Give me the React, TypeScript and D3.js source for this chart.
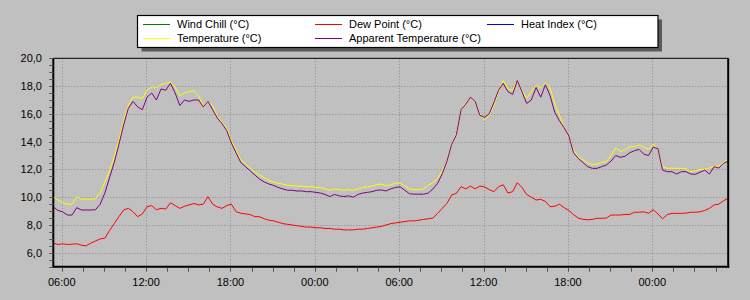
import React from "react";
import * as d3 from "d3";

// ---- data (20-minute samples starting 05:24) ----
const START = new Date(2012, 4, 10, 5, 24);
const STEP_MIN = 20;

const temperature = [
  10.04, 9.8, 9.6, 9.5, 9.5, 10.05, 9.87, 9.87, 9.87, 9.9, 10.3, 11.1, 11.9, 12.9, 14.1, 15.5, 16.6, 17.2, 17.2, 17.1,
  17.7, 17.95, 17.9, 18.1, 18.2, 18.3, 17.9, 17.3, 17.5, 17.6, 17.65, 17.3, 16.6, 16.9, 16.6, 15.8, 15.4, 14.95, 14.05, 13.35,
  12.7, 12.4, 12.1, 11.8, 11.6, 11.4, 11.2, 11.1, 11.0, 10.95, 10.85, 10.85, 10.8, 10.8, 10.75, 10.75, 10.7, 10.7, 10.6, 10.5,
  10.6, 10.55, 10.5, 10.55, 10.5, 10.6, 10.7, 10.75, 10.8, 10.9, 10.95, 10.8, 10.9, 11.0, 11.05, 10.8, 10.6, 10.55, 10.55, 10.6,
  10.85, 11.05, 11.35, 11.9, 12.6, 13.8, 14.6, 16.3, 16.8, 17.2, 16.8, 16.0, 15.55, 15.9, 16.6, 17.6, 18.4, 17.8, 17.7, 18.4,
  17.7, 17.1, 17.6, 18.05, 17.9, 18.2, 17.9, 16.7, 15.9, 15.0, 14.3, 13.4, 12.9, 12.7, 12.45, 12.37, 12.37, 12.5, 12.56, 13.0,
  13.55, 13.3, 13.4, 13.64, 13.64, 13.75, 13.6, 13.45, 13.83, 13.4, 12.2, 12.08, 12.08, 12.08, 12.08, 12.05, 11.84, 11.9, 12.0, 12.0,
  12.1, 12.2, 12.25, 12.5, 12.75,
];

const apparentTemperature = [
  9.3, 9.05, 8.95, 8.72, 8.72, 9.25, 9.08, 9.08, 9.08, 9.1, 9.5, 10.3, 11.4, 12.5, 13.8, 15.2, 16.4, 16.9, 16.5, 16.3,
  17.2, 17.5, 17.0, 17.8, 17.7, 18.2, 17.5, 16.6, 17.0, 16.9, 17.0, 17.0, 16.5, 16.9, 16.3, 15.7, 15.3, 14.8, 13.9, 13.2,
  12.5, 12.2, 11.9, 11.6, 11.3, 11.1, 10.95, 10.85, 10.7, 10.6, 10.5, 10.5, 10.45, 10.45, 10.4, 10.4, 10.35, 10.3, 10.2, 10.05,
  10.2, 10.1, 10.05, 10.1, 10.0, 10.2, 10.3, 10.35, 10.4, 10.5, 10.52, 10.45, 10.6, 10.7, 10.75, 10.5, 10.25, 10.22, 10.22, 10.22,
  10.3, 10.6, 11.0, 11.7, 12.6, 13.8, 14.5, 16.3, 16.7, 17.2, 16.9, 15.9, 15.75, 16.0, 16.8, 17.7, 18.2, 17.6, 17.4, 18.4,
  17.6, 16.75, 17.0, 17.9, 17.2, 18.1, 17.3, 16.1, 15.5, 15.0, 14.4, 13.2, 12.8, 12.5, 12.2, 12.08, 12.08, 12.2, 12.32, 12.6,
  13.0, 12.87, 12.95, 13.2, 13.35, 13.44, 13.1, 13.0, 13.6, 13.5, 11.95, 11.84, 11.84, 11.67, 11.84, 11.84, 11.67, 11.65, 11.8, 11.95,
  11.67, 12.2, 12.1, 12.44, 12.6,
];

const dewPoint = [
  6.69, 6.6, 6.65, 6.6, 6.62, 6.65, 6.55, 6.5, 6.7, 6.85, 7.0, 7.05, 7.6, 8.1, 8.6, 9.08, 9.2, 8.96, 8.6, 8.8,
  9.32, 9.4, 9.1, 9.2, 9.15, 9.6, 9.4, 9.2, 9.35, 9.45, 9.55, 9.45, 9.5, 10.04, 9.5, 9.3, 9.2, 9.4, 9.5, 8.96,
  8.85, 8.8, 8.75, 8.6, 8.6, 8.45, 8.35, 8.3, 8.2, 8.1, 8.05, 8.0, 7.95, 7.9, 7.85, 7.85, 7.8, 7.8, 7.75, 7.75,
  7.7, 7.7, 7.65, 7.65, 7.65, 7.7, 7.7, 7.75, 7.8, 7.85, 7.9, 8.0, 8.1, 8.15, 8.2, 8.25, 8.3, 8.3, 8.35, 8.4,
  8.45, 8.5, 8.84, 9.2, 9.57, 10.16, 10.28, 10.76, 10.6, 10.8, 10.6, 10.8, 10.75, 10.55, 10.4, 10.75, 10.9, 10.3, 10.4, 11.05,
  10.7, 10.2, 10.0, 9.8, 9.85, 9.7, 9.32, 9.35, 9.5, 9.25, 9.05, 8.75, 8.5, 8.41, 8.38, 8.4, 8.48, 8.48, 8.5, 8.72,
  8.72, 8.72, 8.76, 8.76, 8.92, 8.92, 8.95, 8.85, 9.1, 8.8, 8.45, 8.75, 8.84, 8.84, 8.84, 8.86, 8.92, 8.92, 8.95, 9.05,
  9.2, 9.45, 9.5, 9.75, 9.92,
];

const yTicks = [6, 8, 10, 12, 14, 16, 18, 20];

const legendItems = [
  { label: "Wind Chill (°C)", color: "#008000" },
  { label: "Dew Point (°C)", color: "#ff0000" },
  { label: "Heat Index (°C)", color: "#0000ff" },
  { label: "Temperature (°C)", color: "#ffff00" },
  { label: "Apparent Temperature (°C)", color: "#800080" },
];

const W = 750;
const H = 300;
const M = { left: 53.3, right: 728.2, top: 58.3, bottom: 266.7 };
const FONT = "'Liberation Sans', Arial, sans-serif";

export default function App() {
  const end = d3.timeHour.offset(START, 48);
  const x = d3.scaleTime().domain([START, end]).range([M.left, M.right]);
  const y = d3.scaleLinear().domain([5, 20]).range([M.bottom, M.top]);

  const times = temperature.map((_, i) => d3.timeMinute.offset(START, i * STEP_MIN));
  const mk = (vals: number[]) =>
    d3
      .line<number>()
      .x((_, i) => x(times[i]))
      .y((v) => y(v))(vals) as string;

  const majorX = x.ticks(d3.timeHour.every(6)!);
  const dayStart = d3.timeDay.floor(START);
  const minorX = d3
    .range(0, 60 * 60, 90)
    .map((m) => d3.timeMinute.offset(dayStart, m))
    .filter((d) => d >= START && d <= end);
  const minorY = d3.range(5, 20.01, 0.5);
  const fmt = d3.timeFormat("%H:%M");
  const fmtY = (v: number) => v.toFixed(1).replace(".", ",");

  const lgX = 137.5;
  const lgY = 15.5;
  const lgW = 520.5;
  const lgH = 32;
  const colX = [143, 315, 487];
  const rowY = [24, 38];

  return (
    <svg
      width={W}
      height={H}
      style={{ position: "fixed", left: 0, top: 0, display: "block" }}
      fontFamily={FONT}
    >
      <rect x={0} y={0} width={W} height={H} fill="#c0c0c0" />

      {/* grid */}
      {yTicks.map((v) => (
        <line
          key={"gy" + v}
          x1={M.left}
          x2={M.right}
          y1={Math.round(y(v)) + 0.5}
          y2={Math.round(y(v)) + 0.5}
          stroke="#8c8c8c"
          strokeDasharray="1 2"
        />
      ))}
      {majorX.map((d, i) => (
        <line
          key={"gx" + i}
          x1={Math.round(x(d)) + 0.5}
          x2={Math.round(x(d)) + 0.5}
          y1={M.top}
          y2={M.bottom}
          stroke="#8c8c8c"
          strokeDasharray="1 2"
        />
      ))}

      {/* series */}
      <path d={mk(dewPoint)} fill="none" stroke="#ff0000" strokeWidth={1} />
      <path d={mk(temperature)} fill="none" stroke="#ffff00" strokeWidth={1} />
      <path d={mk(apparentTemperature)} fill="none" stroke="#800080" strokeWidth={1} />

      {/* frame */}
      <line x1={M.left} x2={M.right} y1={M.top} y2={M.top} stroke="#000" strokeWidth={1} />
      <line x1={M.right} x2={M.right} y1={M.top} y2={M.bottom + 1} stroke="#000" strokeWidth={2} />
      <line x1={M.left} x2={M.left} y1={M.top} y2={M.bottom + 1} stroke="#000" strokeWidth={2} />
      <line x1={M.left} x2={M.right + 1} y1={M.bottom} y2={M.bottom} stroke="#000" strokeWidth={2} />

      {/* y ticks */}
      {minorY.map((v) => (
        <line
          key={"ty" + v}
          x1={M.left - 4}
          x2={M.left}
          y1={Math.round(y(v)) + 0.5}
          y2={Math.round(y(v)) + 0.5}
          stroke="#555"
        />
      ))}
      {yTicks.map((v) => (
        <text key={"ly" + v} x={42} y={y(v)} dy="0.35em" textAnchor="end" fontSize={11} fill="#000">
          {fmtY(v)}
        </text>
      ))}

      {/* x ticks */}
      {minorX.map((d, i) => (
        <line
          key={"tx" + i}
          x1={Math.round(x(d)) + 0.5}
          x2={Math.round(x(d)) + 0.5}
          y1={M.bottom + 1}
          y2={M.bottom + 5}
          stroke="#555"
        />
      ))}
      {majorX.map((d, i) => (
        <text key={"lx" + i} x={x(d)} y={286} textAnchor="middle" fontSize={11} fill="#000">
          {fmt(d)}
        </text>
      ))}

      {/* legend */}
      <rect x={lgX + 4} y={lgY + 4} width={lgW} height={lgH} fill="#404040" opacity={0.8} />
      <rect x={lgX} y={lgY} width={lgW} height={lgH} fill="#fff" stroke="#000" strokeWidth={1.2} />
      {legendItems.map((it, i) => {
        const cx = colX[i % 3];
        const cy = rowY[Math.floor(i / 3)];
        return (
          <g key={it.label}>
            <line x1={cx} x2={cx + 27} y1={cy + 0.5} y2={cy + 0.5} stroke={it.color} />
            <text x={cx + 34} y={cy} dy="0.35em" fontSize={11} fill="#000">
              {it.label}
            </text>
          </g>
        );
      })}
    </svg>
  );
}
